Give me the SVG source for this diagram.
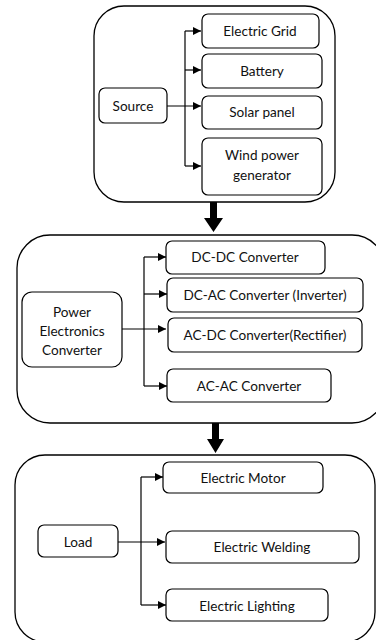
<svg xmlns="http://www.w3.org/2000/svg" width="376" height="640" viewBox="0 0 376 640">
<defs>
<style>
.c{fill:#fff;stroke:#000;stroke-width:1.3}
.b{fill:#fff;stroke:#000;stroke-width:1.2}
.t{font-family:Lato,"Open Sans",sans-serif;font-size:13.6px;fill:#111;text-anchor:middle;dominant-baseline:central}
.l{fill:none;stroke:#000;stroke-width:1.2}
</style>
<marker id="ah" viewBox="0 0 10 10" refX="10" refY="5" markerWidth="8" markerHeight="8" markerUnits="userSpaceOnUse" orient="auto">
<path d="M0,0 L10,5 L0,10 Z" fill="#000"/>
</marker>
</defs>
<rect width="376" height="640" fill="#fff"/>
<g id="containers">
<rect id="source-group" class="c" x="94" y="6" width="241" height="196" rx="30"/>
<rect id="pec-group" class="c" x="17" y="235" width="368" height="188" rx="33"/>
<rect id="load-group" class="c" x="15" y="455" width="360" height="187" rx="30"/>
</g>
<g id="connectors">
<path class="l" d="M167,106 H201" marker-end="url(#ah)"/>
<path class="l" d="M185,31 V166"/>
<path class="l" d="M185,31 H201" marker-end="url(#ah)"/>
<path class="l" d="M185,70 H201" marker-end="url(#ah)"/>
<path class="l" d="M185,166 H201" marker-end="url(#ah)"/>
<path class="l" d="M122,329 H166" marker-end="url(#ah)"/>
<path class="l" d="M144,257 V386"/>
<path class="l" d="M144,257 H166" marker-end="url(#ah)"/>
<path class="l" d="M144,294 H167" marker-end="url(#ah)"/>
<path class="l" d="M144,386 H167" marker-end="url(#ah)"/>
<path class="l" d="M118,542 H165" marker-end="url(#ah)"/>
<path class="l" d="M141,477 V605"/>
<path class="l" d="M141,477 H163" marker-end="url(#ah)"/>
<path class="l" d="M141,605 H166" marker-end="url(#ah)"/>
<path d="M210,202 H217 V218 H223 L213.5,232 L204,218 H210 Z" fill="#000"/>
<path d="M212,423 H219 V439 H224 L215.5,453 L207,439 H212 Z" fill="#000"/>
</g>
<g id="source"><rect class="b" x="99" y="88" width="68" height="35" rx="6"/><text class="t" x="133" y="106">Source</text></g>
<g id="grid"><rect class="b" x="202" y="14" width="117" height="34" rx="6"/><text class="t" x="260" y="31">Electric Grid</text></g>
<g id="battery"><rect class="b" x="202" y="54" width="120" height="34" rx="6"/><text class="t" x="262" y="71">Battery</text></g>
<g id="solar"><rect class="b" x="202" y="96" width="120" height="33" rx="6"/><text class="t" x="262" y="112">Solar panel</text></g>
<g id="wind"><rect class="b" x="202" y="138" width="120" height="57" rx="6"/><text class="t" x="262" y="155">Wind power</text><text class="t" x="262" y="175">generator</text></g>
<g id="pec"><rect class="b" x="22" y="292" width="100" height="75" rx="10"/><text class="t" x="72" y="312">Power</text><text class="t" x="72" y="331">Electronics</text><text class="t" x="72" y="350">Converter</text></g>
<g id="dcdc"><rect class="b" x="166" y="241" width="159" height="33" rx="6"/><text class="t" x="245" y="257">DC-DC Converter</text></g>
<g id="dcac"><rect class="b" x="167" y="278" width="196" height="34" rx="6"/><text class="t" x="265" y="295">DC-AC Converter (Inverter)</text></g>
<g id="acdc"><rect class="b" x="168" y="318" width="194" height="34" rx="6"/><text class="t" x="265" y="335">AC-DC Converter(Rectifier)</text></g>
<g id="acac"><rect class="b" x="167" y="369" width="164" height="33" rx="6"/><text class="t" x="249" y="386">AC-AC Converter</text></g>
<g id="load"><rect class="b" x="38" y="525" width="80" height="32" rx="6"/><text class="t" x="78" y="542">Load</text></g>
<g id="motor"><rect class="b" x="163" y="462" width="160" height="31" rx="6"/><text class="t" x="243" y="478">Electric Motor</text></g>
<g id="welding"><rect class="b" x="166" y="531" width="193" height="32" rx="6"/><text class="t" x="262" y="547">Electric Welding</text></g>
<g id="lighting"><rect class="b" x="166" y="589" width="162" height="32" rx="6"/><text class="t" x="247" y="606">Electric Lighting</text></g>
</svg>
